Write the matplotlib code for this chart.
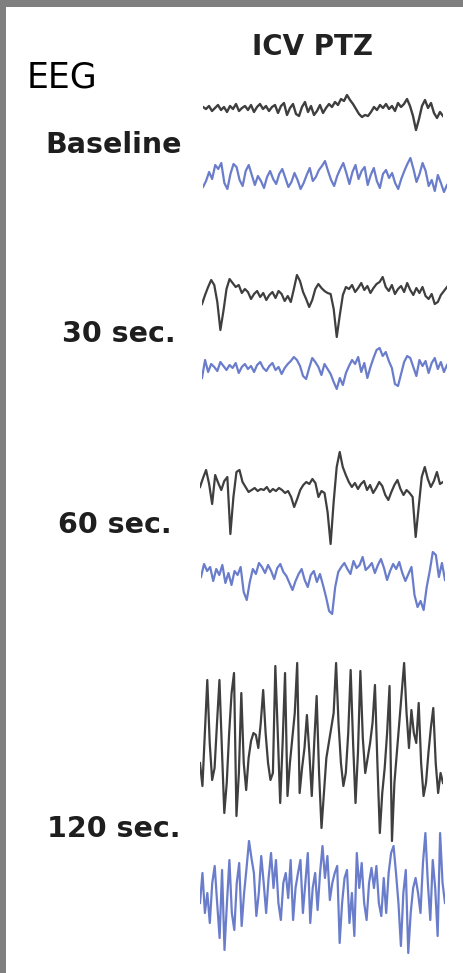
import matplotlib
matplotlib.use("Agg")
import matplotlib.pyplot as plt
import matplotlib.patches as patches
import numpy as np

# EEG amplitudes (arbitrary units, up = positive)
baseline_ctx = [3, 1, 4, -1, 2, 5, 0, 3, -2, 4, 1, 6, -1, 2, 4, 0, 5, -2, 3, 6, 1, 4, -1, 3, 5,
                -3, 4, 7, -5, 2, 6, -4, -6, 3, 8, -2, 4, -5, -1, 5, -3, 2, 6,
                3, 8, 5, 11, 9, 15, 10, 6, 1, -4, -7, -5, -6,
                -2, 3, 0, 5, 2, 6, 1, 4, -1, 7, 3, 6, 11, 4, -6, -20, -9, 4, 10, 2,
                7, -3, -8, -2, -6]
baseline_hpc = [-10, -4, 5, -2, 12, 8, 14, -6, -12, 3, 13, 10, -3, -9, 6, 12, 2, -8, 1, -4,
                -11, 0, 6, -2, -7, 3, 8, -1, -10, -5, 4, -3, -12, -6, 2, 9, -4, 0, 7, 11,
                16, 6, -3, -9, 1, 8, 14, 4, -7, 5, 12, -2, 6, 10, -8, 2, 9, -4, -11, 3,
                7, -1, 4, -6, -12, -2, 6, 13, 19, 8, -5, 3, 14, 6, -9, -3, -14, 2, -6, -15, -8]

sec30_ctx = [-7, 2, 10, 17, 12, -5, -33, -14, 8, 18, 14, 10, 12, 4, 8, 5, -2, 3, 6, 0,
             4, -3, 2, 5, -1, 6, 3, -4, 1, -5, 8, 22, 16, 5, -2, -10, -3, 8, 13, 9,
             6, 4, 3, -12, -40, -18, 2, 10, 8, 12, 5, 9, 14, 7, 11, 4, 9, 13, 15, 20,
             10, 6, 12, 3, 8, 11, 5, 14, 7, 2, 9, 4, 10, 1, -2, 3, -7, -5, 2, 6, 10]
sec30_hpc = [-8, 10, -2, 6, 3, -1, 8, 4, 0, 5, 2, 7, -3, 3, 6, 1, 4, -2, 5, 8,
             2, -1, 4, 7, 0, 3, -4, 2, 6, 9, 13, 10, 4, -6, -9, 2, 12, 8, 3, -5,
             6, 1, -4, -12, -19, -8, -15, -3, 4, 10, 6, 13, -2, 7, -8, 3, 12, 20, 22, 14,
             18, 9, 2, -14, -16, -4, 8, 14, 12, 3, -6, 10, 4, 9, -3, 7, 12, 1, 8, -2, 5]

sec60_ctx = [0, 9, 17, 3, -17, 12, 4, -3, 6, 10, -47, -10, 15, 17, 5, 0, -5, -3, -1, -4,
             -2, -3, 0, -5, -2, -4, -1, -3, -6, -4, -10, -20, -12, -3, 2, 5, 3, 8, 4, -10,
             -4, -6, -25, -57, -15, 20, 35, 20, 12, 5, 0, 4, -2, 3, 6, -3, 2, -6, -1, 5,
             1, -8, -13, -5, 2, 7, -2, -8, -3, -6, -10, -50, -20, 10, 20, 8, 0, 6, 15, 3, 5]
sec60_hpc = [0, 13, 6, 10, -4, 8, 2, 12, -6, 4, -8, 6, 2, 10, -15, -23, -5, 8, 3, 14,
             10, 4, 12, 6, -2, 9, 13, 5, 1, -6, -13, -4, 3, 8, -3, -10, 2, 6, -5, 3,
             -8, -20, -34, -37, -10, 5, 10, 14, 8, 3, 16, 9, 12, 20, 7, 10, 14, 4, 12, 18,
             9, -3, 6, 13, 8, 15, 4, -4, 3, 10, -18, -30, -24, -33, -10, 6, 25, 22, 0, 14, -3]

sec120_ctx = [-10, -33, 20, 73, 10, -27, -15, 30, 73, 5, -60, -30, 20, 60, 80, -63, -20, 60, -10, -37,
              -5, 12, 20, 18, 5, 30, 63, 20, -10, -27, -20, 87, 20, -50, 10, 80, -43, -10, 15, 40,
              90, -40, -15, 5, 38, 0, -43, 10, 57, -20, -75, -40, -5, 10, 25, 40, 90, 30, -10, -33,
              -20, 20, 83, 10, -50, 0, 82, 15, -20, -5, 10, 30, 68, -10, -80, -40, -15, 20, 67, -88,
              -30, 0, 30, 60, 90, 40, 5, 43, 20, 10, 50, -10, -43, -30, 0, 25, 45, -10, -40, -20, -30]
sec120_hpc = [-10, 20, -20, 0, -30, 10, 27, -10, -45, 23, -57, -10, 33, -20, -37, 10, 30, -33, 0, 25,
              52, 35, 20, -23, 0, 37, 10, -20, 15, 40, 5, 33, -10, -27, 10, 20, -5, 33, -27, 5,
              20, 33, -20, 10, 40, -30, 5, 20, -17, 20, 47, 15, 37, -7, 10, 20, 27, -50, -10, 15,
              23, -30, 0, -43, 40, 5, 30, -10, -27, 10, 25, 5, 27, -10, -23, 15, -20, 20, 40, 47,
              20, -10, -53, 0, 23, -60, -20, 5, 15, 0, -20, 30, 60, 10, -27, 33, 5, -43, 60, 10, -10]

row_labels = ["Baseline", "30 sec.", "60 sec.", "120 sec."]

W, H = 463, 973
fig = plt.figure(figsize=(W / 100, H / 100), dpi=100)
fig.patch.set_facecolor("white")

# grey frame on the left and top edges
fig.patches.append(patches.Rectangle((0, 0), 6 / W, 1, transform=fig.transFigure,
                                     facecolor="#7f7f7f", edgecolor="none"))
fig.patches.append(patches.Rectangle((0, 1 - 7 / H), 1, 7 / H, transform=fig.transFigure,
                                     facecolor="#7f7f7f", edgecolor="none"))


def trace(values, left, right, base, color, lw):
    # one axes per trace, 1 amplitude unit = 1 pixel
    ax = fig.add_axes([left / W, 1 - (base + 100) / H, (right - left) / W, 200 / H])
    x = np.arange(len(values))
    ax.plot(x, values, color=color, lw=lw, solid_joinstyle="round", alpha=0.9)
    ax.set_xlim(0, len(values) - 1)
    ax.set_ylim(-100, 100)
    ax.axis("off")
    ax.patch.set_alpha(0)


black = "#2a2a2a"
blue = "#5a6fc6"
trace(baseline_ctx, 203, 443, 110, black, 1.7)
trace(baseline_hpc, 203, 447, 177, blue, 1.6)
trace(sec30_ctx, 202, 447, 297, black, 1.6)
trace(sec30_hpc, 202, 447, 370, blue, 1.6)
trace(sec60_ctx, 200, 443, 487, black, 1.6)
trace(sec60_hpc, 201, 445, 577, blue, 1.6)
trace(sec120_ctx, 200, 443, 753, black, 1.6)
trace(sec120_hpc, 200, 445, 893, blue, 1.6)

# texts
fig.text(27 / W, 1 - 77 / H, "EEG", fontsize=25, color="black", ha="left", va="center")
fig.text(312 / W, 1 - 47 / H, "ICV PTZ", fontsize=20, fontweight="bold",
         color="#222222", ha="center", va="center")
label_x = [45, 62, 58, 47]
label_y = [145, 334, 525, 829]
for txt, lx, ly in zip(row_labels, label_x, label_y):
    fig.text(lx / W, 1 - ly / H, txt, fontsize=20.5, fontweight="bold",
             color="#1e1e1e", ha="left", va="center")

fig.savefig("out.png", dpi=100)
